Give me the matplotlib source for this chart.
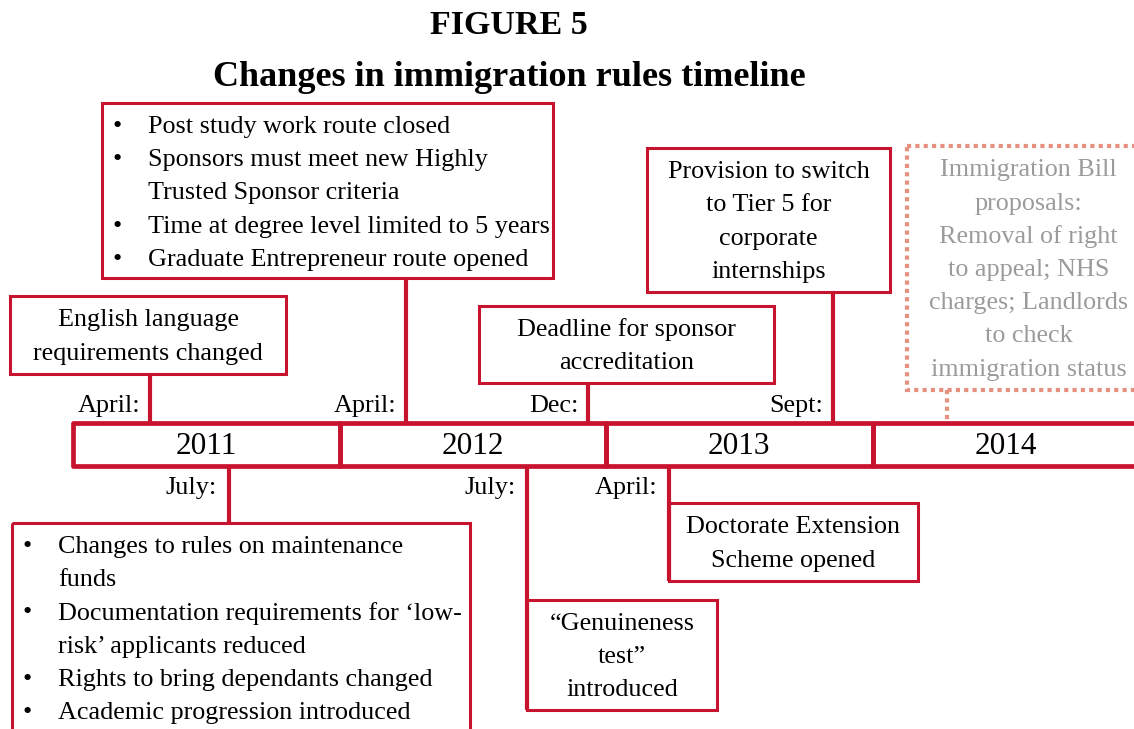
import matplotlib.pyplot as plt
from matplotlib.patches import Rectangle

plt.rcParams['font.family'] = ['Liberation Serif', 'DejaVu Serif']

# timeline data
years = [2011, 2012, 2013, 2014]
title_top = "FIGURE 5"
title_main = "Changes in immigration rules timeline"

# events above the line: date (fractional year), month label, text lines, bulleted
above_dates = [2011.289, 2012.251, 2012.934, 2013.852]
above_months = ["April:", "April:", "Dec:", "Sept:"]
above_texts = [
    ["English language", "requirements changed"],
    ["Post study work route closed", "Sponsors must meet new Highly", "Trusted Sponsor criteria",
     "Time at degree level limited to 5 years", "Graduate Entrepreneur route opened"],
    ["Deadline for sponsor", "accreditation"],
    ["Provision to switch", "to Tier 5 for", "corporate", "internships"],
]
above_bullets = [None, [True, True, False, True, True], None, None]

# events below the line
below_dates = [2011.585, 2012.705, 2013.236]
below_months = ["July:", "July:", "April:"]
below_texts = [
    ["Changes to rules on maintenance", "funds", "Documentation requirements for \u2018low-",
     "risk\u2019 applicants reduced", "Rights to bring dependants changed", "Academic progression introduced"],
    ["\u201cGenuineness", "test\u201d", "introduced"],
    ["Doctorate Extension", "Scheme opened"],
]
below_bullets = [[True, False, True, False, True, True], None, None]

# proposed (not yet in force)
proposal_date = 2014.28
proposal_text = ["Immigration Bill", "proposals:", "Removal of right", "to appeal; NHS",
                 "charges; Landlords", "to check", "immigration status"]

# layout (pixels) -------------------------------------------------------
W, H = 1134, 729
X0, YPX = 2010.726, 266.5   # year at left edge, pixels per year


def X(p):
    return X0 + p / YPX


RED = '#C8132F'
SALMON = '#E4917F'
GREY = '#9B9B9B'
FS = 18.8
LH = 33.2

band_top, band_bot = 423, 466
# box extents: left, top, right, bottom (px)
above_boxes = [(10, 296, 286, 374), (102, 103, 553, 278), (479, 306, 774, 383), (647, 148, 890, 292)]
below_boxes = [(12, 523, 470, 760), (527, 600, 717, 710), (669, 503, 918, 581)]
prop_box = (907, 146, 1150, 390)

fig = plt.figure(figsize=(W / 100, H / 100), dpi=100)
ax = fig.add_axes([0, 0, 1, 1])
ax.set_xlim(X(0), X(W))
ax.set_ylim(H, 0)
ax.axis('off')

fig.text(509 / W, 1 - 25 / H, title_top, ha='center', va='center', fontsize=24.5, fontweight='bold')
fig.text(509 / W, 1 - 77 / H, title_main, ha='center', va='center', fontsize=26, fontweight='bold')

# year band
for y in years:
    ax.add_patch(Rectangle((y, band_top), 1, band_bot - band_top, fill=False,
                           edgecolor=RED, lw=3.4, joinstyle='round', zorder=3))
    ax.text(y + 0.5, (band_top + band_bot) / 2 + 2, str(y), ha='center', va='center', fontsize=22.5)


def draw_box(box, lines, bullets, color=RED, ls='-', tcolor='black', lw=2.2):
    l, t, r, b = box
    ax.add_patch(Rectangle((X(l), t), X(r) - X(l), b - t, fill=False, edgecolor=color,
                           lw=lw, ls=ls, zorder=2))
    n = len(lines)
    y0 = t + 24
    if bullets is None:
        y0 = (t + b) / 2 - (n - 1) * LH / 2 + 2
        for i, s in enumerate(lines):
            ax.text(X((l + r) / 2), y0 + i * LH, s, ha='center', va='center', fontsize=FS, color=tcolor)
    else:
        for i, (s, bl) in enumerate(zip(lines, bullets)):
            if bl:
                ax.text(X(l + 15), y0 + i * LH, "\u2022", ha='center', va='center', fontsize=FS)
            ax.text(X(l + 46), y0 + i * LH, s, ha='left', va='center', fontsize=FS, color=tcolor)


for d, m, txt, bl, box in zip(above_dates, above_months, above_texts, above_bullets, above_boxes):
    draw_box(box, txt, bl)
    ax.plot([d, d], [box[3], band_top], color=RED, lw=3, solid_capstyle='butt', zorder=1)
    ax.text(d - 10 / YPX, 406, m, ha='right', va='center', fontsize=FS)

for d, m, txt, bl, box in zip(below_dates, below_months, below_texts, below_bullets, below_boxes):
    draw_box(box, txt, bl)
    bottom = box[1] if X(box[0]) < d - 0.01 else box[3]
    ax.plot([d, d], [band_bot, bottom], color=RED, lw=3, solid_capstyle='butt', zorder=1)
    ax.text(d - 12 / YPX, 488, m, ha='right', va='center', fontsize=FS)

draw_box(prop_box, proposal_text, None, color=SALMON, ls=(0, (1, 1)), tcolor=GREY, lw=3)
ax.plot([proposal_date, proposal_date], [prop_box[3], band_top], color=SALMON, lw=3,
        ls=(0, (1, 1)), solid_capstyle='butt')

fig.savefig('out.png', dpi=100)
